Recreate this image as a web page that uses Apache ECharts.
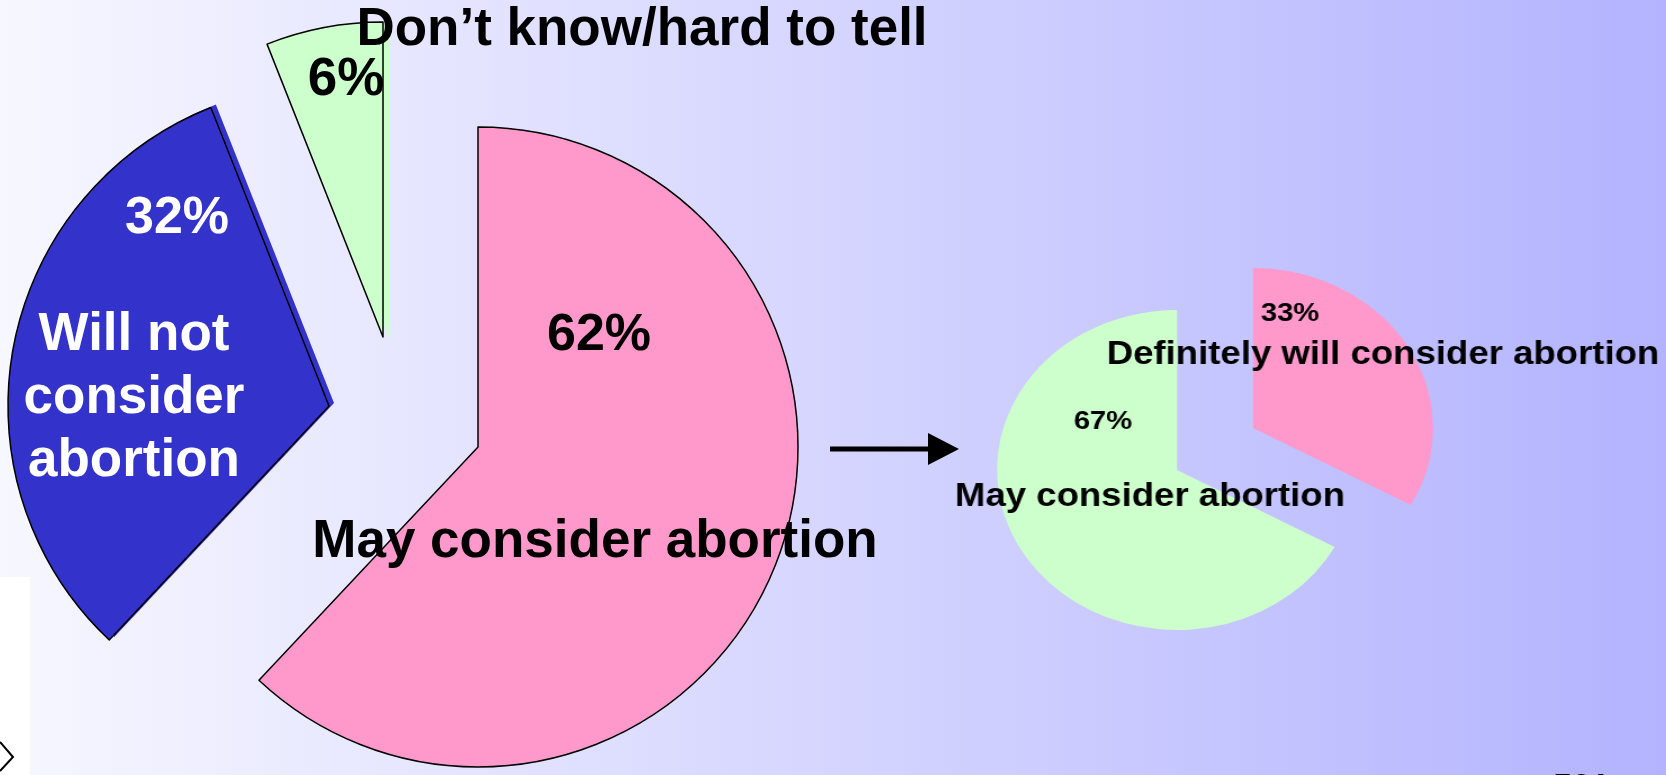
<!DOCTYPE html>
<html>
<head>
<meta charset="utf-8">
<script src="https://cdn.jsdelivr.net/npm/echarts@6/dist/echarts.min.js"></script>
<style>
html, body { margin: 0; padding: 0; overflow: hidden; }
#main { position: absolute; left: 0; top: 0; width: 1666px; height: 775px; }
/* the small pie in the slide is stretched sideways, text and all */
#side { position: absolute; left: 900px; top: 0; width: 680px; height: 775px; transform: scaleX(1.125); transform-origin: 0 0; }
</style>
</head>
<body>
<div id="main"></div>
<div id="side"></div>
<script>
// big pie: all respondents
var bigNames = ['May consider abortion', 'Will not consider abortion', 'Don’t know/hard to tell'];
var bigValues = [62, 32, 6];
var bigColors = ['#FF99CC', '#3333CC', '#CCFFCC'];

// small pie: those who may consider abortion
var smallNames = ['Definitely will consider abortion', 'May consider abortion'];
var smallValues = [33, 67];
var smallColors = ['#FF99CC', '#CCFFCC'];

var FONT = '"Liberation Sans", Arial, sans-serif';
var hidden = 'rgba(0,0,0,0)';

// one pie series per slice, so every slice can sit on its own centre (exploded look)
function sliceSeries(names, values, colors, idx, center, radius, border, z) {
  return {
    type: 'pie',
    silent: true,
    animation: false,
    startAngle: 90,
    clockwise: true,
    center: center,
    radius: radius,
    z: z,
    label: { show: false },
    labelLine: { show: false },
    emphasis: { disabled: true },
    data: values.map(function (v, i) {
      return {
        value: v,
        name: names[i],
        itemStyle: i === idx
          ? { color: colors[i], borderColor: '#000', borderWidth: border }
          : { color: hidden, borderWidth: 0 }
      };
    })
  };
}

function txt(text, x, y, size, color, extra) {
  var s = {
    text: text,
    fill: color,
    font: 'bold ' + size + 'px ' + FONT,
    align: 'center',
    verticalAlign: 'middle'
  };
  if (extra) for (var k in extra) s[k] = extra[k];
  return { type: 'text', x: x, y: y, z: 100, style: s };
}

var pct = function (v) { return v + '%'; };

var main = echarts.init(document.getElementById('main'));
main.setOption({
  backgroundColor: new echarts.graphic.LinearGradient(0, 0, 1, 0, [
    { offset: 0, color: '#F7F7FF' },
    { offset: 1, color: '#B3B3FF' }
  ]),
  series: [
    // side faces (drawn underneath)
    sliceSeries(bigNames, bigValues, bigColors, 1, [334, 403], 321, 0, 1),
    sliceSeries(bigNames, bigValues, bigColors, 2, [390, 340], 315, 0, 1),
    // front faces
    sliceSeries(bigNames, bigValues, bigColors, 0, [478, 447], 320, 1.5, 2),
    sliceSeries(bigNames, bigValues, bigColors, 1, [329, 406], 321, 1.5, 2),
    sliceSeries(bigNames, bigValues, bigColors, 2, [383, 337], 315, 1.5, 2)
  ],
  graphic: [
    { type: 'rect', shape: { x: 0, y: 577, width: 30, height: 200 }, style: { fill: '#fff' }, z: 50 },
    { type: 'polyline', shape: { points: [[0, 742], [13, 757], [0, 771]] }, style: { stroke: '#000', lineWidth: 2, fill: null }, z: 51 },
    // arrow between the pies
    { type: 'line', shape: { x1: 830, y1: 449, x2: 932, y2: 449 }, style: { stroke: '#000', lineWidth: 5 }, z: 50 },
    { type: 'polygon', shape: { points: [[928, 433], [959, 449], [928, 465]] }, style: { fill: '#000' }, z: 50 },
    txt(bigNames[2], 642, 30, 53, '#000'),
    txt(pct(bigValues[2]), 346, 80, 53, '#000'),
    txt(pct(bigValues[1]), 177, 219, 52, '#fff'),
    txt('Will not\nconsider\nabortion', 134, 398, 53, '#fff', { lineHeight: 63 }),
    txt(pct(bigValues[0]), 599, 336, 52, '#000'),
    txt(bigNames[0], 595, 542, 53, '#000'),
    { type: 'text', x: 1553, y: 771, z: 100, style: { text: '501', fill: '#000', font: 'bold 34px ' + FONT, align: 'left', verticalAlign: 'top' } }
  ]
});

var side = echarts.init(document.getElementById('side'));
side.setOption({
  backgroundColor: 'transparent',
  series: [
    sliceSeries(smallNames, smallValues, smallColors, 0, [313.8, 428], 160, 0, 2),
    sliceSeries(smallNames, smallValues, smallColors, 1, [246.2, 470], 160, 0, 2)
  ],
  graphic: [
    txt(pct(smallValues[0]), 346.7, 314, 26, '#000'),
    txt(smallNames[0], 429.3, 355, 32.5, '#000'),
    txt(pct(smallValues[1]), 180.4, 422, 26, '#000'),
    txt(smallNames[1], 222.2, 497, 32.5, '#000')
  ]
});
</script>
</body>
</html>
